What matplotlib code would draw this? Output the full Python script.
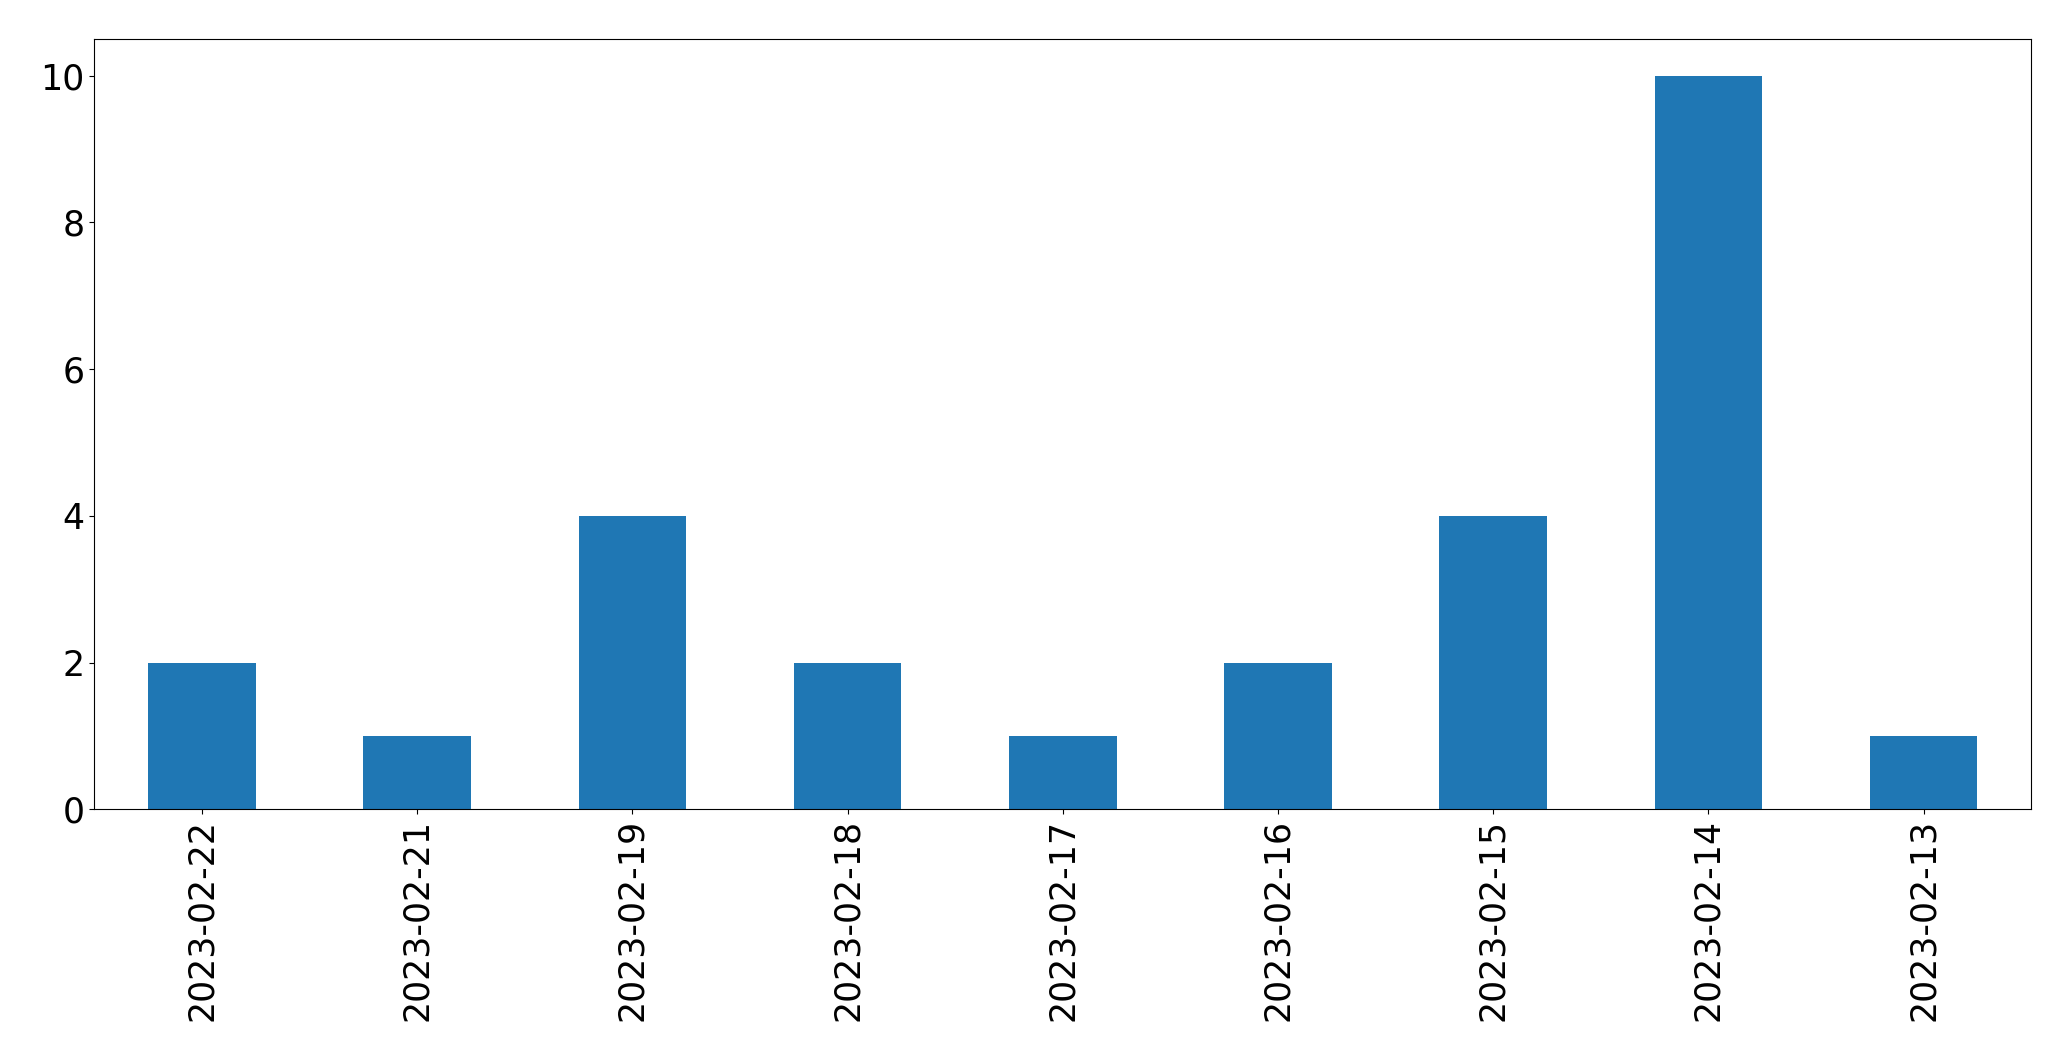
import matplotlib
matplotlib.use('Agg')
import matplotlib.pyplot as plt

# dias e contagens (ordem do gráfico original)
datas = ['2023-02-22', '2023-02-21', '2023-02-19', '2023-02-18', '2023-02-17',
         '2023-02-16', '2023-02-15', '2023-02-14', '2023-02-13']
contagens = [2, 1, 4, 2, 1, 2, 4, 10, 1]


def main():
    fig = plt.figure(figsize=(20.71, 10.61), dpi=100)
    ax = fig.add_axes([0.04553, 0.2372, 0.9353, 0.7260])

    pos = range(len(datas))
    ax.bar(pos, contagens, width=0.5, color='#1f77b4')

    ax.set_xlim(-0.5, len(datas) - 0.5)
    ax.set_ylim(0, 10.5)
    ax.set_xticks(list(pos))
    ax.set_xticklabels(datas, rotation=90, fontsize=25)
    ax.set_yticks([0, 2, 4, 6, 8, 10])
    ax.tick_params(axis='y', labelsize=25)

    fig.savefig('out.png', dpi=100)


if __name__ == '__main__':
    main()
